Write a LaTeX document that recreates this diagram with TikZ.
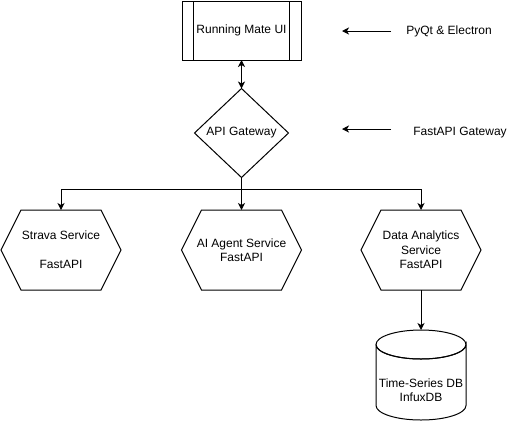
\documentclass[tikz,border=0pt]{standalone}
\usepackage{fontspec}
\setmainfont{Liberation Sans}
\usetikzlibrary{shapes.geometric,arrows.meta}
\begin{document}
\begin{tikzpicture}[x=1pt,y=-1pt,line width=1pt,
  every node/.style={font=\fontsize{12}{14.5}\selectfont,align=center,inner sep=0pt,outer sep=0pt},
  arr/.style={-{Stealth[length=7pt,width=7pt,inset=2pt]}},
  darr/.style={{Stealth[length=7pt,width=7pt,inset=2pt]}-{Stealth[length=7pt,width=7pt,inset=2pt]}},
  hexbox/.style={minimum width=120pt,minimum height=80pt},
  uibox/.style={draw,minimum width=119pt,minimum height=59pt},
  gwbox/.style={draw,diamond,minimum width=94pt,minimum height=89pt}]
\useasboundingbox (0,0) rectangle (521,421);
\fill[white] (0,0) rectangle (521,421);
% UI
\node[uibox] (ui) at (241.5,30.5) {Running Mate UI};
\draw ([xshift=11.5pt]ui.north west) -- ([xshift=11.5pt]ui.south west);
\draw ([xshift=-11.5pt]ui.north east) -- ([xshift=-11.5pt]ui.south east);
% Gateway
\node[gwbox] (gw) at (241.5,133) {API Gateway};
\draw[darr] (ui.south) -- (gw.north);
% Labels
\node (l1) at (449,31) {PyQt \& Electron};
\node (l2) at (460,133) {FastAPI Gateway};
\coordinate (a1s) at (391,31);
\coordinate (a1e) at (342,31);
\coordinate (a2s) at (391,129);
\coordinate (a2e) at (342,129);
\draw[arr] (a1s) -- (a1e);
\draw[arr] (a2s) -- (a2e);
% Services
\node[hexbox] (h1) at (61,250) {Strava Service\\[14.5pt]FastAPI};
\node[hexbox] (h2) at (241.5,250) {AI Agent Service\\FastAPI};
\node[hexbox] (h3) at (421,250) {Data Analytics\\Service\\FastAPI};
\foreach \h in {h1,h2,h3}{
  \draw (\h.west) -- ([xshift=20pt]\h.north west) -- ([xshift=-20pt]\h.north east)
    -- (\h.east) -- ([xshift=-20pt]\h.south east) -- ([xshift=20pt]\h.south west) -- cycle;
}
\draw[arr] (gw.south) -- (h2.north);
\draw[arr] (gw.south) -- ++(0,12) -| (h1.north);
\draw[arr] (gw.south) -- ++(0,12) -| (h3.north);
% DB
\node[minimum width=90pt,minimum height=90pt] (db) at (421,375) {};
\draw ([yshift=-14.5pt]db.north west) -- ([yshift=14.5pt]db.south west)
  arc[start angle=180,end angle=360,x radius=45pt,y radius=14.5pt]
  -- ([yshift=-14.5pt]db.north east)
  arc[start angle=0,end angle=-360,x radius=45pt,y radius=14.5pt];
\draw ([yshift=-14.5pt]db.north west) arc[start angle=180,end angle=0,x radius=45pt,y radius=-14.5pt];
\node (dbt) at (421,390) {Time-Series DB\\InfuxDB};
\draw[arr] (h3.south) -- (db.north);
\end{tikzpicture}
\end{document}
